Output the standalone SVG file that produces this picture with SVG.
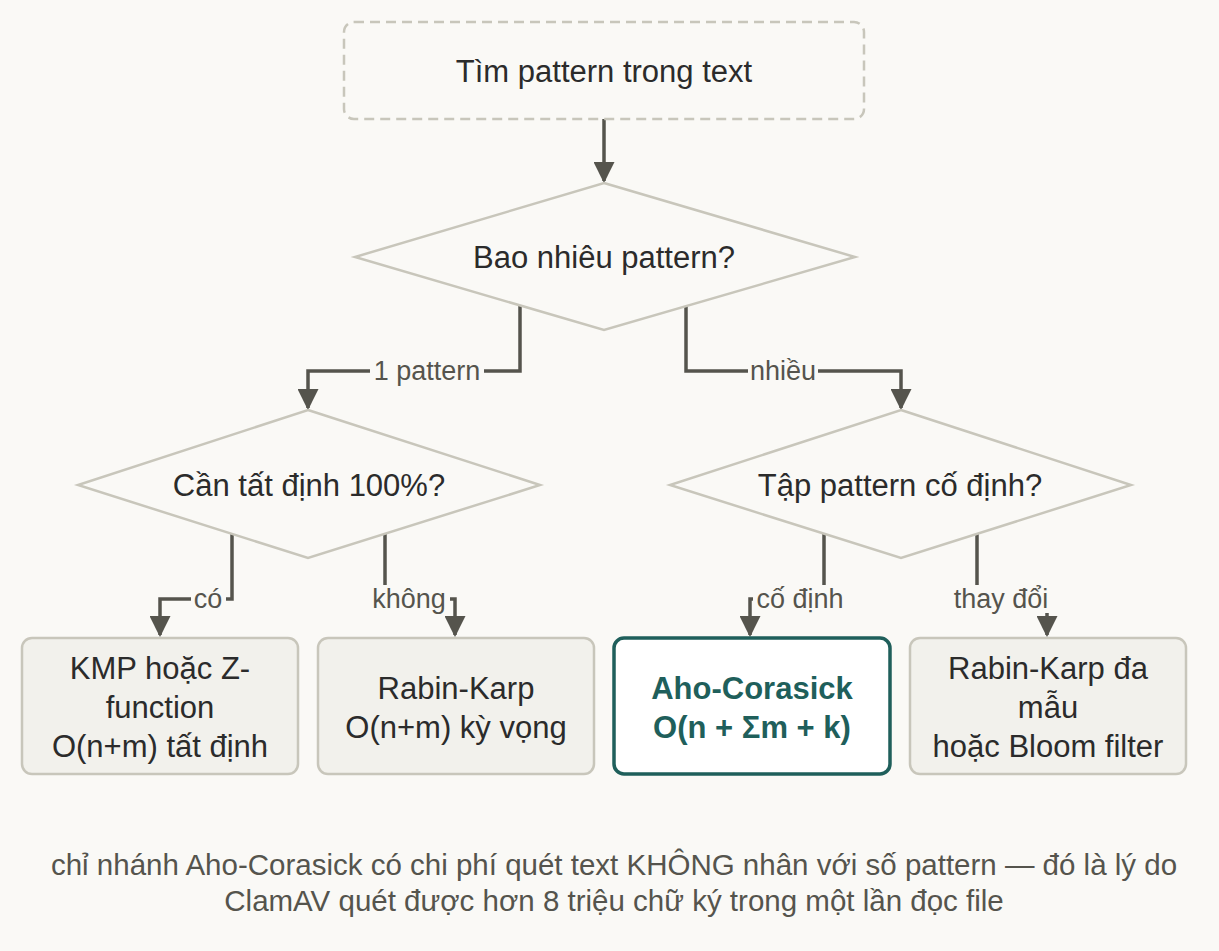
<svg xmlns="http://www.w3.org/2000/svg" width="1219" height="951" viewBox="0 0 1219 951">
<defs>
<marker id="ah" viewBox="0 0 10 10" refX="9" refY="5" markerWidth="6" markerHeight="6" orient="auto" markerUnits="strokeWidth"><path d="M0,0L10,5L0,10z" fill="#55544d"/></marker>
<style>
text{font-family:"Liberation Sans",Arial,sans-serif;fill:#2b2b2b;text-anchor:middle}
.n{font-size:31px}
.l{font-size:27px;fill:#55544d}
.c{font-size:29.5px;fill:#55544d}
.d{fill:#faf9f6;stroke:#c8c6bb;stroke-width:2.5}
.b{fill:#f2f1ec;stroke:#c8c6bb;stroke-width:2.5}
.e{fill:none;stroke:#55544d;stroke-width:3.5;marker-end:url(#ah)}
.lb{fill:#faf9f6}
</style>
</defs>
<rect width="1219" height="951" fill="#faf9f6"/>
<g id="connectors">
<path class="e" d="M604,119V181"/>
<path class="e" d="M520,305V371H308V408"/>
<path class="e" d="M686,305V371H901V408"/>
<path class="e" d="M232,533V599H160V635"/>
<path class="e" d="M385,533V599H455V635"/>
<path class="e" d="M824,533V599H750V635"/>
<path class="e" d="M977,533V599H1047V635"/>
<rect class="lb" x="370" y="357" width="114" height="28"/><text class="l" x="427" y="380">1 pattern</text>
<rect class="lb" x="748" y="357" width="70" height="28"/><text class="l" x="783" y="380">nhiều</text>
<rect class="lb" x="191" y="585" width="35" height="28"/><text class="l" x="208" y="608">có</text>
<rect class="lb" x="368" y="585" width="82" height="28"/><text class="l" x="409" y="608">không</text>
<rect class="lb" x="753" y="585" width="96" height="28"/><text class="l" x="800" y="608">cố định</text>
<rect class="lb" x="947" y="585" width="108" height="28"/><text class="l" x="1001" y="608">thay đổi</text>
</g>
<g id="start"><rect x="344" y="22" width="520" height="97" rx="10" fill="#faf9f6" stroke="#c8c6bb" stroke-width="2.5" stroke-dasharray="10,6"/><text class="n" x="604" y="82">Tìm pattern trong text</text></g>
<g id="q1"><polygon class="d" points="604,183 855,257 604,330 355,257"/><text class="n" x="604" y="268">Bao nhiêu pattern?</text></g>
<g id="q2"><polygon class="d" points="308,410 540,485 308,558 78,485"/><text class="n" x="309" y="496">Cần tất định 100%?</text></g>
<g id="q3"><polygon class="d" points="901,410 1131,485 901,558 670,485"/><text class="n" x="900" y="496">Tập pattern cố định?</text></g>
<g id="kmp"><rect class="b" x="22" y="638" width="276" height="136" rx="10"/><text class="n" x="160" y="679">KMP hoặc Z-</text><text class="n" x="160" y="718">function</text><text class="n" x="160" y="757">O(n+m) tất định</text></g>
<g id="rk"><rect class="b" x="318" y="638" width="276" height="136" rx="10"/><text class="n" x="456" y="699">Rabin-Karp</text><text class="n" x="456" y="738">O(n+m) kỳ vọng</text></g>
<g id="ac"><rect x="614" y="638" width="276" height="136" rx="10" fill="#ffffff" stroke="#1f5f5b" stroke-width="3.5"/><text class="n" x="752" y="699" style="fill:#1f5f5b;font-weight:bold">Aho-Corasick</text><text class="n" x="752" y="738" style="fill:#1f5f5b;font-weight:bold">O(n + Σm + k)</text></g>
<g id="rk2"><rect class="b" x="910" y="638" width="276" height="136" rx="10"/><text class="n" x="1048" y="679">Rabin-Karp đa</text><text class="n" x="1048" y="718">mẫu</text><text class="n" x="1048" y="757">hoặc Bloom filter</text></g>
<g id="caption"><text class="c" x="614" y="875">chỉ nhánh Aho-Corasick có chi phí quét text KHÔNG nhân với số pattern — đó là lý do</text><text class="c" x="614" y="911">ClamAV quét được hơn 8 triệu chữ ký trong một lần đọc file</text></g>
</svg>
